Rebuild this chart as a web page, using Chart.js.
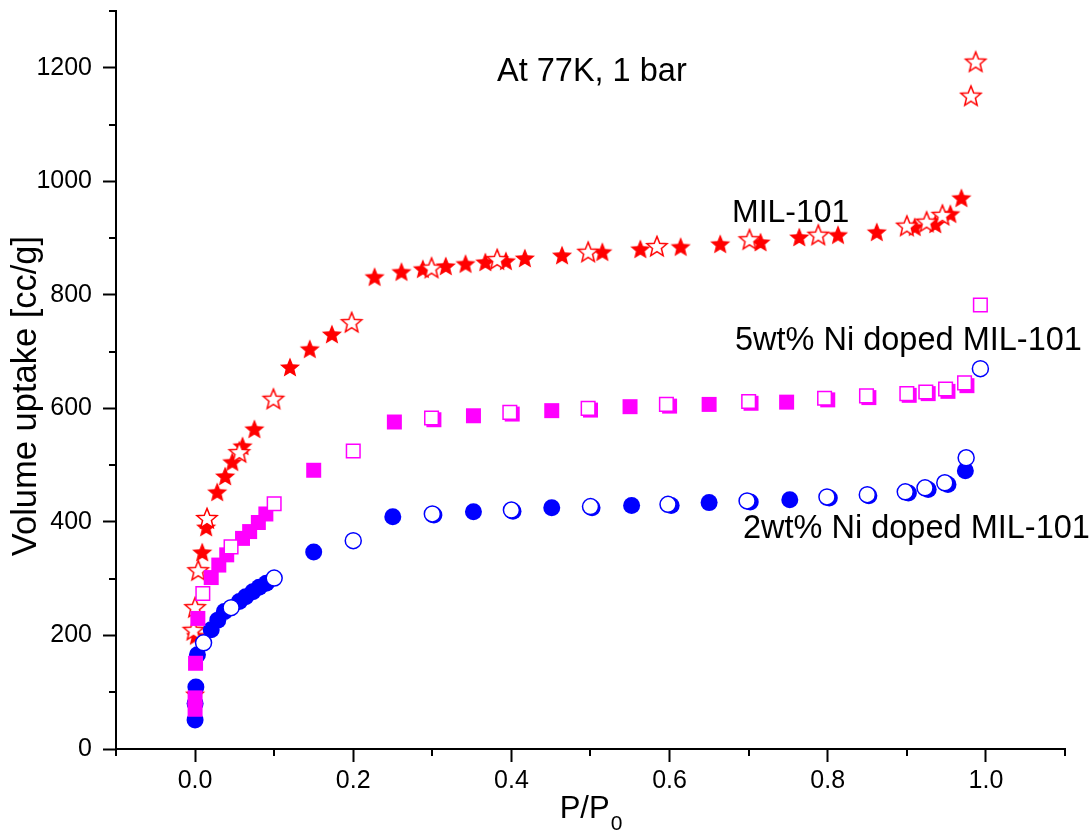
<!DOCTYPE html>
<html><head><meta charset="utf-8">
<script src="https://cdn.jsdelivr.net/npm/chart.js@4/dist/chart.umd.min.js"></script>
<style>html,body{margin:0;padding:0;background:#fff}#wrap{width:1092px;height:830px;position:relative}</style>
</head><body><div id="wrap"><canvas id="c" width="1092" height="830"></canvas></div>
<script>
// ---- tick values ----
const xMajorTicks = [0, 0.2, 0.4, 0.6, 0.8, 1.0];
const xMinorTicks = [-0.1, 0.1, 0.3, 0.5, 0.7, 0.9, 1.1];
const yMajorTicks = [0, 200, 400, 600, 800, 1000, 1200];
const yMinorTicks = [100, 300, 500, 700, 900, 1100, 1300];

// ---- MIL-101 adsorption (filled stars) ----
const milAdsP = [0.0, 0.001, 0.009, 0.014, 0.028, 0.038, 0.047, 0.060, 0.075, 0.12, 0.145, 0.173, 0.227, 0.261, 0.288, 0.317, 0.342, 0.367, 0.393, 0.417, 0.464, 0.515, 0.563, 0.614, 0.664, 0.715, 0.764, 0.813, 0.862, 0.91, 0.936, 0.955, 0.969];
const milAdsV = [97, 200, 347, 391, 453, 481, 506, 534, 564, 673, 705, 731, 832, 841, 846, 851, 855, 858, 860, 865, 870, 876, 881, 885, 890, 893, 902, 906, 911, 920, 925, 943, 971];
// ---- MIL-101 desorption (open stars) ----
const milDesP = [0.987, 0.981, 0.945, 0.925, 0.9, 0.788, 0.701, 0.584, 0.497, 0.382, 0.299, 0.198, 0.099, 0.056, 0.015, 0.004, 0.0, -0.002];
const milDesV = [1211, 1151, 941, 929, 922, 906, 898, 886, 876, 863, 848, 752, 617, 523, 407, 315, 250, 210];

// ---- 5wt% Ni adsorption (filled squares) ----
const ni5AdsP = [0.0, 0.0, 0.0006, 0.0035, 0.0204, 0.030, 0.040, 0.060, 0.069, 0.080, 0.0895, 0.15, 0.252, 0.302, 0.352, 0.401, 0.451, 0.5, 0.55, 0.6, 0.65, 0.703, 0.748, 0.8, 0.852, 0.903, 0.927, 0.952, 0.976];
const ni5AdsV = [70, 90, 151, 230, 302, 324, 342, 371, 383, 399, 414, 491, 576, 580, 587, 590, 596, 597, 603, 604, 607, 609, 611, 615, 619, 623, 626, 630, 640];
// ---- 5wt% Ni desorption (open squares) ----
const ni5DesP = [0.993, 0.973, 0.949, 0.924, 0.9, 0.849, 0.796, 0.70, 0.596, 0.497, 0.398, 0.299, 0.2, 0.1, 0.0455, 0.0098];
const ni5DesV = [782, 645, 634, 629, 626, 622, 618, 612, 607, 600, 593, 583, 525, 432, 356, 274];

// ---- 2wt% Ni adsorption (filled circles) ----
const ni2AdsP = [0.0, 0.0, 0.001, 0.003, 0.0204, 0.0287, 0.037, 0.056, 0.064, 0.073, 0.081, 0.09, 0.15, 0.25, 0.302, 0.352, 0.402, 0.451, 0.502, 0.552, 0.602, 0.65, 0.702, 0.752, 0.802, 0.852, 0.902, 0.927, 0.952, 0.974];
const ni2AdsV = [51, 80, 109, 166, 210, 227, 242, 260, 268, 277, 285, 292, 347, 409, 412, 418, 419, 425, 425, 429, 429, 434, 435, 439, 442, 446, 451, 457, 466, 490];
// ---- 2wt% Ni desorption (open circles) ----
const ni2DesP = [0.993, 0.975, 0.948, 0.923, 0.898, 0.85, 0.799, 0.698, 0.598, 0.5, 0.4, 0.3, 0.2, 0.1, 0.0455, 0.0107];
const ni2DesV = [670, 513, 469, 460, 453, 448, 444, 437, 431, 427, 421, 414, 367, 301, 249, 187];

const RED = '#ff0000', MAG = '#ff00ff', BLUE = '#0000ff';
const FONT = "'Liberation Sans', Arial, sans-serif";

function pts(P, V) { return P.map((p, i) => ({ x: p, y: V[i] })); }

function starCanvas(filled) {
  const s = 26, c = document.createElement('canvas');
  c.width = s; c.height = s;
  const g = c.getContext('2d');
  const R = 10.6, r = R * 0.44, cx = s / 2, cy = s / 2 + 1;
  g.beginPath();
  for (let i = 0; i < 10; i++) {
    const a = -Math.PI / 2 + i * Math.PI / 5;
    const rad = (i % 2) ? r : R;
    g.lineTo(cx + rad * Math.cos(a), cy + rad * Math.sin(a));
  }
  g.closePath();
  if (filled) { g.fillStyle = RED; g.fill(); }
  else { g.fillStyle = '#fff'; g.fill(); g.lineWidth = 1.5; g.strokeStyle = RED; g.stroke(); }
  return c;
}
const starFilled = starCanvas(true), starOpen = starCanvas(false);

const overlay = {
  id: 'overlay',
  afterDraw(chart) {
    const { ctx, scales: { x, y } } = chart;
    ctx.save();
    // minor ticks
    ctx.strokeStyle = '#000'; ctx.lineWidth = 2;
    ctx.beginPath();
    xMinorTicks.forEach(v => { const px = Math.round(x.getPixelForValue(v)); ctx.moveTo(px, y.bottom); ctx.lineTo(px, y.bottom + 7); });
    yMinorTicks.forEach(v => { const py = Math.round(y.getPixelForValue(v)); ctx.moveTo(x.left, py); ctx.lineTo(x.left - 7, py); });
    ctx.stroke();
    // annotations
    ctx.fillStyle = '#000';
    ctx.textBaseline = 'alphabetic';
    ctx.textAlign = 'left';
    ctx.font = `32.5px ${FONT}`;
    ctx.fillText('At 77K, 1 bar', 497, 81);
    ctx.font = `32px ${FONT}`;
    ctx.fillText('MIL-101', 732, 222);
    ctx.font = `32.5px ${FONT}`;
    ctx.fillText('5wt% Ni doped MIL-101', 735, 350);
    ctx.fillText('2wt% Ni doped MIL-101', 743, 538);
    // y title
    ctx.save();
    ctx.translate(36, 396);
    ctx.rotate(-Math.PI / 2);
    ctx.textAlign = 'center';
    ctx.font = `34.5px ${FONT}`;
    ctx.fillText('Volume uptake [cc/g]', 0, 0);
    ctx.restore();
    // x title
    const cxp = (x.left + x.right) / 2;
    ctx.font = `31px ${FONT}`;
    const w1 = ctx.measureText('P/P').width;
    ctx.font = `21px ${FONT}`;
    const w2 = ctx.measureText('0').width;
    const start = cxp - (w1 + w2) / 2;
    ctx.font = `31px ${FONT}`;
    ctx.fillText('P/P', start, 818);
    ctx.font = `21px ${FONT}`;
    ctx.fillText('0', start + w1 + 1, 830);
    ctx.restore();
  }
};

new Chart(document.getElementById('c'), {
  type: 'scatter',
  data: {
    datasets: [
      { label: 'MIL-101 ads', data: pts(milAdsP, milAdsV), pointStyle: starFilled, pointRadius: 11, order: 6 },
      { label: 'MIL-101 des', data: pts(milDesP, milDesV), pointStyle: starOpen, pointRadius: 11, order: 5 },
      { label: '2wt ads', data: pts(ni2AdsP, ni2AdsV), pointStyle: 'circle', pointRadius: 8.5, backgroundColor: BLUE, borderColor: BLUE, borderWidth: 0, order: 4 },
      { label: '2wt des', data: pts(ni2DesP, ni2DesV), pointStyle: 'circle', pointRadius: 8, backgroundColor: '#fff', borderColor: BLUE, borderWidth: 1.5, order: 3 },
      { label: '5wt ads', data: pts(ni5AdsP, ni5AdsV), pointStyle: 'rect', pointRadius: 10.6, backgroundColor: MAG, borderColor: MAG, borderWidth: 0, order: 2 },
      { label: '5wt des', data: pts(ni5DesP, ni5DesV), pointStyle: 'rect', pointRadius: 9.6, backgroundColor: '#fff', borderColor: MAG, borderWidth: 1.5, order: 1 }
    ]
  },
  options: {
    responsive: false,
    animation: false,
    devicePixelRatio: 1,
    layout: { padding: { left: 0, top: 11, right: 27, bottom: 0 }, autoPadding: false },
    plugins: { legend: { display: false }, tooltip: { enabled: false } },
    elements: { point: { hoverRadius: 0 } },
    scales: {
      x: {
        type: 'linear', position: 'bottom', min: -0.1, max: 1.1,
        afterBuildTicks: s => { s.ticks = xMajorTicks.map(v => ({ value: v })); },
        afterFit: s => { s.height = 81; s.paddingLeft = 0; s.paddingRight = 0; },
        ticks: { callback: v => v.toFixed(1), font: { family: FONT, size: 25 }, color: '#000', padding: 4, maxRotation: 0 },
        grid: { drawOnChartArea: false, drawTicks: true, tickLength: 13, tickWidth: 2, tickColor: '#000' },
        border: { display: true, color: '#000', width: 2 }
      },
      y: {
        type: 'linear', position: 'left', min: 0, max: 1300,
        afterBuildTicks: s => { s.ticks = yMajorTicks.map(v => ({ value: v })); },
        afterFit: s => { s.width = 116; s.paddingTop = 0; s.paddingBottom = 0; },
        ticks: { callback: v => String(v), font: { family: FONT, size: 25 }, color: '#000', padding: 11 },
        grid: { drawOnChartArea: false, drawTicks: true, tickLength: 13, tickWidth: 2, tickColor: '#000' },
        border: { display: true, color: '#000', width: 2 }
      }
    }
  },
  plugins: [overlay]
});
</script></body></html>
